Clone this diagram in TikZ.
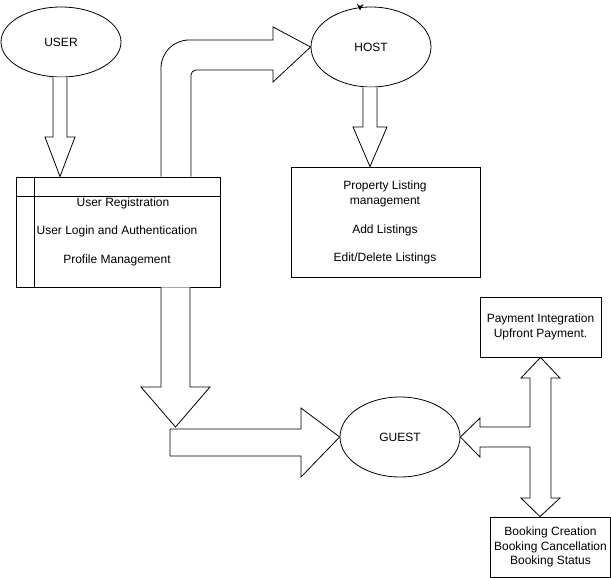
\documentclass[tikz,border=0pt]{standalone}
\usepackage{fontspec}
\setmainfont{Liberation Sans}
\usetikzlibrary{shapes.geometric,calc}
\begin{document}
\begin{tikzpicture}[x=1pt,y=-1pt,line width=0.8pt,
  every node/.style={font=\fontsize{12}{14.5}\selectfont},
  oval/.style={draw,ellipse,minimum width=120pt,inner sep=0pt},
  box/.style={draw,rectangle,inner sep=0pt},
  blockarrow/.style={draw,line join=miter,fill=white},
  txt/.style={inner sep=0pt,align=center}]
\useasboundingbox (0,0) rectangle (611,578);
% ellipses
\node[oval,minimum height=70pt] (user) at (61,42) {USER};
\node[oval,minimum height=80pt] (host) at (371,47) {HOST};
\node[oval,minimum height=80pt] (guest) at (400,437) {GUEST};
% small marker on top of HOST
\fill (357,4) -- (360,6) -- (363.5,4) -- (360,10.5) -- cycle;
% main box
\node[box,minimum width=204pt,minimum height=110pt] (main) at (118,232) {};
\draw (main.north west) ++(0,20) -- ++(204,0);
\draw (main.north west) ++(19,0) -- ++(0,110);
\node[txt] (reg) at (123,203.5) {User Registration};
\node[txt] (login) at (117,231.5) {User Login and Authentication};
\node[txt] (prof) at (117,260) {Profile Management};
% host box
\node[box,minimum width=189pt,minimum height=110pt] (hostbox) at (385.5,222) {};
\node[txt] (hb1) at (385,194) {Property Listing\\management};
\node[txt] (hb2) at (385,230) {Add Listings};
\node[txt] (hb3) at (385,258) {Edit/Delete Listings};
% payment box
\node[box,minimum width=121pt,minimum height=60pt,txt] (pay) at (540.5,327) {Payment Integration\\Upfront Payment.};
% booking box
\node[box,minimum width=120pt,minimum height=60pt,txt] (book) at (550.5,547) {Booking Creation\\Booking Cancellation\\Booking Status};
% USER -> main
\draw[blockarrow] (user.south -| 53,0) -- (53,137) -- (45,137) -- (main.north -| 60,0) -- (75,137) -- (67,137) -- (user.south -| 67,0);
% main -> HOST
\draw[blockarrow] (main.north -| 161,0) -- (161,68) arc[start angle=180,end angle=270,radius=28] -- (273,40) -- (273,27) -- (host.west) -- (273,82) -- (273,70) -- (196,70) arc[start angle=270,end angle=180,radius=5] -- (main.north -| 191,0);
% HOST -> host box
\draw[blockarrow] (host.south -| 363,0) -- (363,127) -- (353,127) -- (hostbox.north -| 370,0) -- (387,127) -- (377,127) -- (host.south -| 377,0);
% main -> down
\coordinate (bend) at (175.5,427);
\draw[blockarrow] (main.south -| 161,0) -- (161,387) -- (141,387) -- (bend) -- (210,387) -- (190,387) -- (main.south -| 190,0);
% -> GUEST
\draw[blockarrow] (170,429) -- (301,429) -- (301,408) -- (guest.west) -- (301,477) -- (301,456) -- (170,456) -- cycle;
% three-way arrow
\draw[blockarrow] (pay.south) -- (560,378) -- (551,378) -- (551,498) -- (560,498) -- (book.north -| 540,0) -- (521,498) -- (530,498) -- (530,447) -- (480,447) -- (480,457) -- (guest.east) -- (480,418) -- (480,427) -- (530,427) -- (530,378) -- (521,378) -- cycle;
\end{tikzpicture}
\end{document}
